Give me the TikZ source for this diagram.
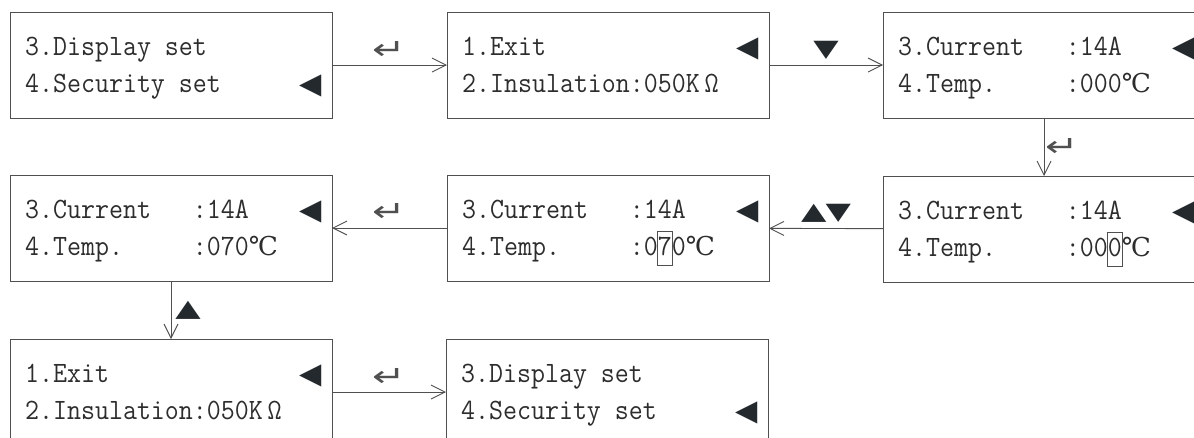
\documentclass[tikz,border=0pt]{standalone}
\usepackage{fontspec}
\usepackage{graphicx}
\usetikzlibrary{arrows.meta,calc}
\setmonofont[FakeStretch=0.92]{Latin Modern Mono}
\newfontfamily\symf{DejaVu Sans}
\newfontfamily\degf{DejaVu Serif}
\definecolor{boxcol}{RGB}{80,80,80}
\definecolor{txtcol}{RGB}{45,45,45}
\definecolor{tricol}{RGB}{36,41,46}
\newcommand\cur[1]{{\setlength{\fboxsep}{0pt}\setlength{\fboxrule}{0.9pt}\color{boxcol}\rlap{\hspace{-0.9pt}\fbox{\rule[-10pt]{0pt}{33pt}\phantom{#1}}}}#1}
\newcommand\degC{{\degf\fontsize{26}{26}\selectfont ℃}}
\newcommand\ret{\scalebox{1.6}[1.15]{↵}}
\tikzset{
  scr/.style={draw=boxcol, line width=0.9pt, minimum width=322pt, minimum height=106pt, anchor=north west, inner sep=0pt, outer sep=0pt},
  txt/.style={anchor=base west, inner sep=0pt, text=txtcol, font=\ttfamily\fontsize{29.5}{29.5}\selectfont},
  cursorsym/.style={inner sep=0pt, text=tricol, font=\symf\fontsize{29}{29}\selectfont},
  conn/.style={draw=boxcol, line width=0.9pt, -{Straight Barb[length=14pt,width=14pt,line width=0.9pt]}},
  lbl/.style={inner sep=0pt, text=tricol, font=\symf\fontsize{33}{33}\selectfont},
  retlbl/.style={inner sep=0pt, text=boxcol, font=\symf\fontsize{25}{25}\selectfont},
}
\newcommand\screen[6]{%
  \node[scr] (#1) at (#2,#3) {};
  \node[txt] (#1-l1) at ($(#1.north west)+(15,43)$) {#4};
  \node[txt] (#1-l2) at ($(#1.north west)+(15,80)$) {#5};
  \node[cursorsym] (#1-c) at ($(#1.north west)+(301,#6)$) {◀};
}
\begin{document}
\begin{tikzpicture}[x=1pt,y=-1pt]
\useasboundingbox (0,0) rectangle (1194,437);
\clip (0,0) rectangle (1194,437);
\screen{A}{10}{12}{3.Display set}{4.Security set}{73.5}
\screen{B}{447}{12}{1.Exit}{2.Insulation:050K\,Ω}{37}
\screen{C}{883}{12}{3.Current~~~:14A}{4.Temp.~~~~~:000\degC}{37}
\screen{D}{10}{175}{3.Current~~~:14A}{4.Temp.~~~~~:070\degC}{37}
\screen{E}{447}{175}{3.Current~~~:14A}{4.Temp.~~~~~:0\cur{7}0\degC}{37}
\screen{F}{883}{176}{3.Current~~~:14A}{4.Temp.~~~~~:00\cur{0}\degC}{37}
\screen{G}{10}{339}{1.Exit}{2.Insulation:050K\,Ω}{37}
\screen{H}{446}{339}{3.Display set}{4.Security set}{73.5}
\draw[conn] (A) -- node[retlbl, yshift=15pt] (lab1) {\ret} (B);
\draw[conn] (B) -- node[lbl, yshift=15pt] (lab2) {\scalebox{1}[0.72]{▼}} (C);
\draw[conn] (C) -- node[retlbl, xshift=18pt] (lab3) {\ret} (F);
\draw[conn] (F) -- node[lbl, yshift=15pt] (lab4) {\scalebox{1}[0.72]{▲\kern-1pt▼}} (E);
\draw[conn] (E) -- node[retlbl, yshift=16pt] (lab5) {\ret} (D);
\draw[conn] (D) -- node[lbl, xshift=17pt] (lab6) {\scalebox{1}[0.72]{▲}} (G);
\draw[conn] (G) -- node[retlbl, yshift=15pt] (lab7) {\ret} (H);
\end{tikzpicture}
\end{document}
